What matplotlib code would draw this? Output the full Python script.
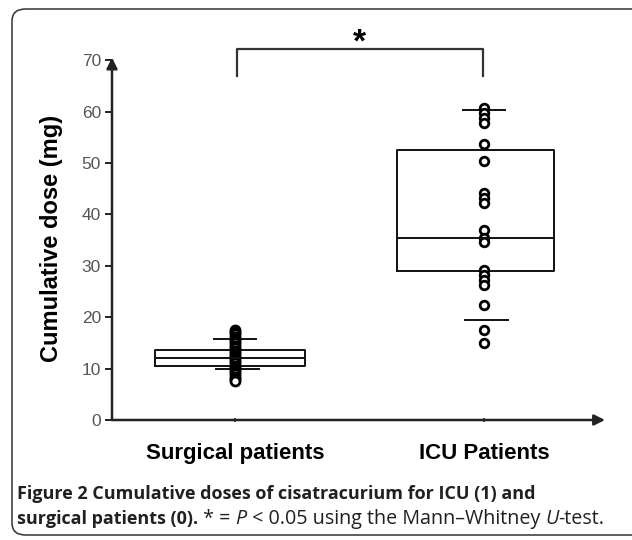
import matplotlib
matplotlib.use('Agg')
import matplotlib.pyplot as plt
from matplotlib.patches import FancyBboxPatch

groups = ['Surgical patients', 'ICU Patients']
tick_pos = [1, 2]

# box summaries (mg)
q1 = [10.5, 28.9]
med = [12.0, 35.4]
q3 = [13.6, 52.6]
whis_lo = [9.9, 19.5]
whis_hi = [15.7, 60.4]

# individual patients
surgical = [17.5, 17.1, 16.7, 16.2, 15.8, 15.3, 14.9, 14.4, 14.0, 13.5, 13.1, 12.7,
            12.2, 11.8, 11.4, 11.0, 10.6, 10.1, 9.7, 9.3, 8.9, 8.4, 8.0, 7.6]
icu = [60.7, 59.7, 58.8, 57.8, 53.6, 50.3, 44.2, 43.2, 42.2, 37.0, 35.4, 34.7,
       29.2, 28.2, 27.3, 26.3, 22.4, 17.5, 14.9]

yticks = [0, 10, 20, 30, 40, 50, 60, 70]

fig = plt.figure(figsize=(6.32, 5.4), dpi=100)
W, H = 632, 540

# rounded frame, open to the right like the cropped original
frame = FancyBboxPatch((12 / W, 5 / H), 1.3, 526 / H,
                       boxstyle='round,pad=0,rounding_size=0.022',
                       transform=fig.transFigure, fill=False,
                       ec='#333333', lw=1.1)
fig.patches.append(frame)

ax = fig.add_axes([112 / W, 120 / H, 493 / W, 362.4 / H])
ax.set_xlim(0.506, 2.486)
ax.set_ylim(0, 70.5)

stats = []
for i in range(2):
    stats.append(dict(med=med[i], q1=q1[i], q3=q3[i],
                      whislo=whis_lo[i], whishi=whis_hi[i], fliers=[]))
ax.bxp(stats, positions=[0.98, 1.965], widths=[0.6, 0.63], showcaps=False,
       showfliers=False, patch_artist=False,
       boxprops=dict(color='#111111', lw=1.4),
       medianprops=dict(color='#111111', lw=1.4),
       whiskerprops=dict(lw=0))
ax.hlines(whis_hi, [p - 0.09 for p in tick_pos], [p + 0.09 for p in tick_pos],
          color='#111111', lw=1.4)
ax.hlines(whis_lo, [p - 0.08 for p in tick_pos], [p + 0.1 for p in tick_pos],
          color='#111111', lw=1.4)

ax.plot([1] * len(surgical), surgical, 'o', ms=6.5, mfc='white', mec='black',
        mew=2.0, clip_on=False)
ax.plot([2] * len(icu), icu, 'o', ms=6.2, mfc='white', mec='black',
        mew=2.0, clip_on=False)

# axes with arrow heads
for s in ax.spines.values():
    s.set_visible(False)
ax.annotate('', xy=(0, 1.0), xytext=(0, 0), xycoords='axes fraction',
            arrowprops=dict(arrowstyle='-|>', color='#222222', lw=1.8,
                            mutation_scale=16, shrinkA=0, shrinkB=0))
ax.annotate('', xy=(1.0, 0), xytext=(0, 0), xycoords='axes fraction',
            arrowprops=dict(arrowstyle='-|>', color='#222222', lw=1.8,
                            mutation_scale=16, shrinkA=0, shrinkB=0))

ax.set_yticks(yticks)
ax.set_yticks([5, 15, 25, 35, 45, 55, 65], minor=True)
ax.tick_params(axis='y', which='major', length=5, width=1.4, color='#222222',
               pad=3, labelsize=12.5, labelcolor='#555555')
ax.tick_params(axis='y', which='minor', length=2, width=1.4, color='#222222',
               direction='inout')
for lab in ax.get_yticklabels():
    lab.set_fontfamily('Liberation Sans')

ax.set_xticks(tick_pos)
ax.set_xticklabels(groups, fontsize=16, fontweight='bold',
                   fontfamily='Liberation Sans')
ax.tick_params(axis='x', length=3, width=1.2, color='#222222', pad=15,
               direction='inout')

ax.set_ylabel('Cumulative dose (mg)', fontsize=17, fontweight='bold',
              fontfamily='Liberation Sans')
ax.yaxis.set_label_coords(-0.10, 0.5)

# significance bracket
ax.plot([1.01, 1.01, 1.995, 1.995], [66.9, 72.2, 72.2, 66.9], color='#333333',
        lw=1.6, clip_on=False)
ax.text(1.5, 71.6, '*', ha='center', va='baseline', fontsize=24,
        fontweight='bold', fontfamily='Liberation Sans', clip_on=False)

# caption, assembled piece by piece
renderer = fig.canvas.get_renderer()
cap_font = 'Open Sans'


def put_pieces(pieces, x0, y0):
    x = x0
    for txt, weight, style, size in pieces:
        t = fig.text(x, y0, txt, fontsize=size, fontweight=weight,
                     fontstyle=style, fontfamily=cap_font, color='#231f20',
                     va='baseline', ha='left')
        bb = t.get_window_extent(renderer)
        x += bb.width / W


put_pieces([('Figure 2 Cumulative doses of cisatracurium for ICU (1) and', 'bold', 'normal', 13)],
           17 / W, 1 - 499 / H)
put_pieces([('surgical patients (0).', 'bold', 'normal', 13),
            (' * = ', 'normal', 'normal', 14.2),
            ('P', 'normal', 'italic', 14.2),
            (' < 0.05 using the Mann\u2013Whitney ', 'normal', 'normal', 14.2),
            ('U', 'normal', 'italic', 14.2),
            ('-test.', 'normal', 'normal', 14.2)],
           17 / W, 1 - 524 / H)

fig.savefig('out.png', dpi=100)
